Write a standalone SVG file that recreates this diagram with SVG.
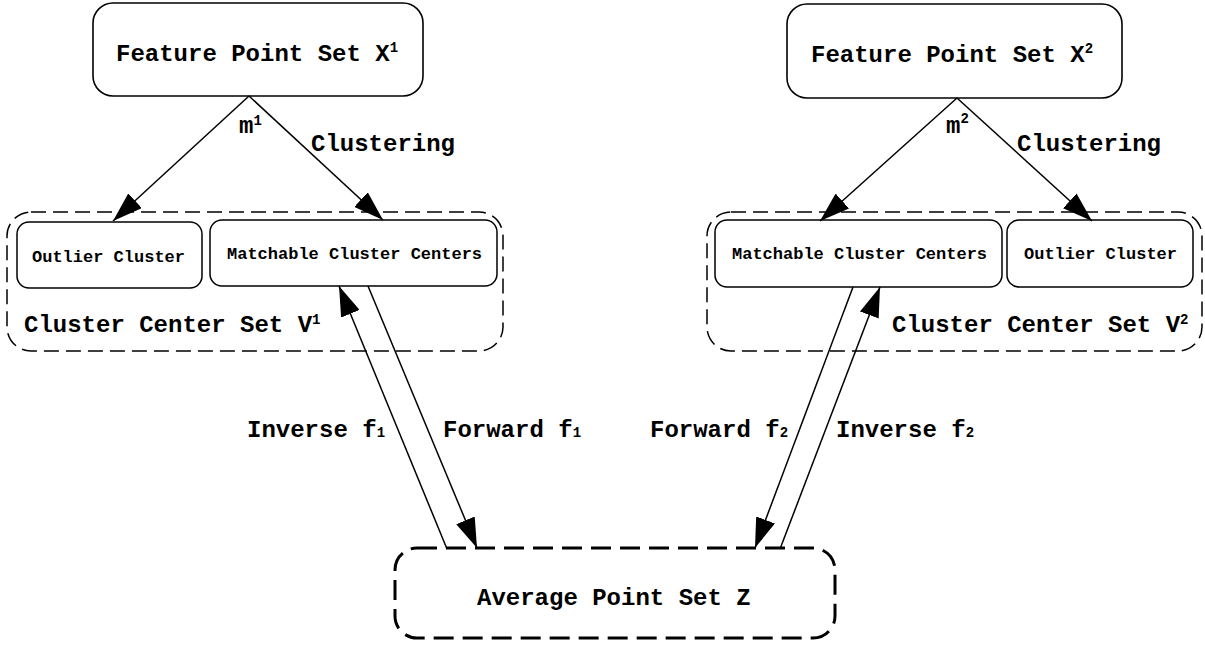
<svg xmlns="http://www.w3.org/2000/svg" width="1205" height="648" viewBox="0 0 1205 648">
<defs>
<style>
text{font-family:"Liberation Mono","Courier New",monospace;font-weight:bold;fill:#000}
.big{font-size:24px}
.small{font-size:17px}
.sup{font-size:14px}
.box{fill:#fff;stroke:#000;stroke-width:1.6}
.inner{fill:#fff;stroke:#000;stroke-width:1.5}
.group{fill:none;stroke:#000;stroke-width:1.5;stroke-dasharray:15 7}
.avg{fill:#fff;stroke:#000;stroke-width:3;stroke-dasharray:20 9}
.edge{fill:none;stroke:#000;stroke-width:1.5;marker-end:url(#ah)}
</style>
<marker id="ah" markerUnits="userSpaceOnUse" markerWidth="30" markerHeight="20" refX="30" refY="10" orient="auto">
<path d="M0,0 L30,10 L0,20 z" fill="#000"/>
</marker>
</defs>
<rect width="1205" height="648" fill="#fff"/>

<g id="X1">
<rect class="box" x="93" y="3" width="330" height="93" rx="20"/>
<text class="big" x="116" y="61">Feature Point Set X<tspan class="sup" dy="-9">1</tspan></text>
</g>
<g id="X2">
<rect class="box" x="787" y="4" width="335" height="94" rx="20"/>
<text class="big" x="811" y="62">Feature Point Set X<tspan class="sup" dy="-9">2</tspan></text>
</g>

<g id="V1">
<rect class="group" x="7" y="212" width="496" height="139" rx="24"/>
<text class="big" x="24" y="332">Cluster Center Set V<tspan class="sup" dy="-8">1</tspan></text>
</g>
<g id="V1-outlier">
<rect class="inner" x="17" y="222" width="185" height="66" rx="12"/>
<text class="small" x="32" y="262">Outlier Cluster</text>
</g>
<g id="V1-matchable">
<rect class="inner" x="210" y="220" width="287" height="66" rx="12"/>
<text class="small" x="227" y="259">Matchable Cluster Centers</text>
</g>

<g id="V2">
<rect class="group" x="707" y="212" width="495" height="139" rx="24"/>
<text class="big" x="892" y="332">Cluster Center Set V<tspan class="sup" dy="-8">2</tspan></text>
</g>
<g id="V2-matchable">
<rect class="inner" x="715" y="220" width="287" height="67" rx="12"/>
<text class="small" x="732" y="259">Matchable Cluster Centers</text>
</g>
<g id="V2-outlier">
<rect class="inner" x="1007" y="220" width="186" height="67" rx="12"/>
<text class="small" x="1024" y="259">Outlier Cluster</text>
</g>

<g id="Z">
<rect class="avg" x="395" y="548" width="440" height="90" rx="22"/>
<text class="big" x="477" y="605">Average Point Set Z</text>
</g>

<g id="connectors">
<line class="edge" x1="249" y1="96" x2="113" y2="221"/>
<line class="edge" x1="249" y1="96" x2="383" y2="220"/>
<line class="edge" x1="957" y1="98" x2="820" y2="221"/>
<line class="edge" x1="957" y1="98" x2="1092" y2="221"/>
<line class="edge" x1="447" y1="549" x2="339" y2="286"/>
<line class="edge" x1="368" y1="286" x2="477" y2="548"/>
<line class="edge" x1="853" y1="287" x2="755" y2="548"/>
<line class="edge" x1="780" y1="549" x2="880" y2="287"/>
</g>

<g id="labels">
<text class="big" x="239" y="133">m<tspan class="sup" dy="-8">1</tspan></text>
<text class="big" x="311" y="151">Clustering</text>
<text class="big" x="946" y="133">m<tspan class="sup" dy="-10">2</tspan></text>
<text class="big" x="1017" y="151">Clustering</text>
<text class="big" x="247" y="437">Inverse f<tspan class="sup">1</tspan></text>
<text class="big" x="443" y="437">Forward f<tspan class="sup">1</tspan></text>
<text class="big" x="650" y="437">Forward f<tspan class="sup">2</tspan></text>
<text class="big" x="836" y="437">Inverse f<tspan class="sup">2</tspan></text>
</g>
</svg>
